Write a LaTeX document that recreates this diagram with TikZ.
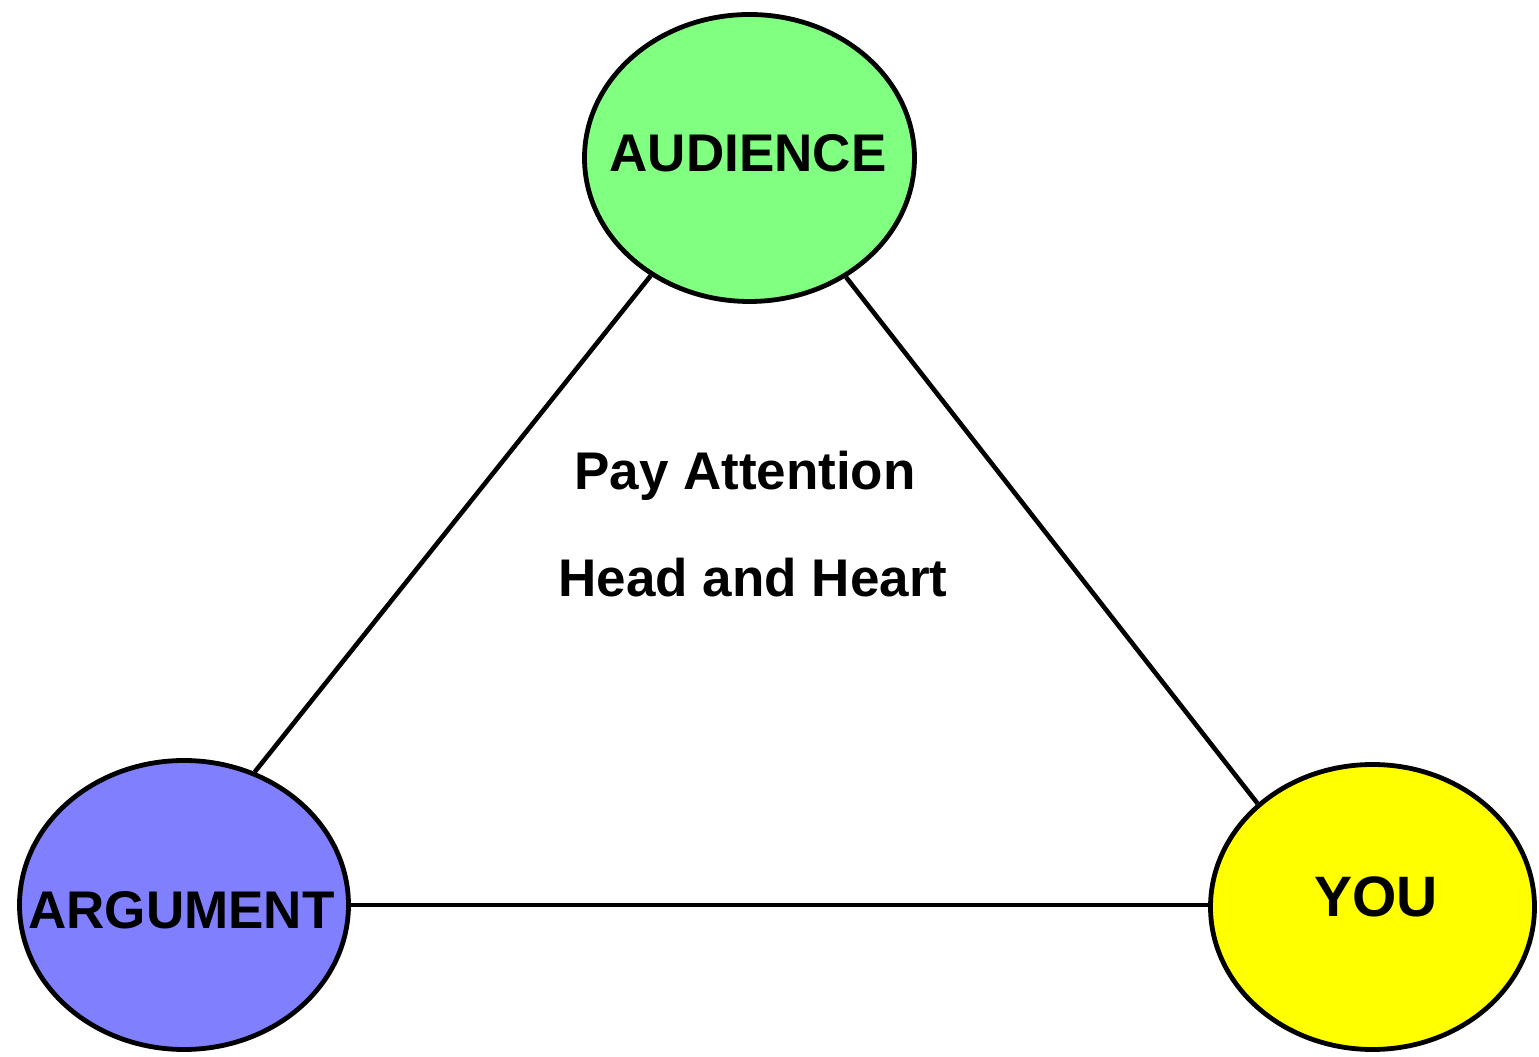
\documentclass[tikz,border=0pt]{standalone}
\usepackage{fontspec}
\setmainfont{Liberation Sans}
\usetikzlibrary{shapes.geometric}
\definecolor{audgreen}{HTML}{80FF80}
\definecolor{argblue}{HTML}{8080FF}
\definecolor{youyellow}{HTML}{FFFF00}
\tikzset{
  circ/.style={ellipse, draw=black, line width=4.8pt, inner sep=0pt},
  link/.style={draw=black, line width=4.6pt},
  caption/.style={font=\fontsize{53}{60}\selectfont\bfseries, inner sep=0pt}
}
\begin{document}
\begin{tikzpicture}[x=1pt, y=1pt]
  \useasboundingbox (0,0) rectangle (1539,1057);

  % the three corners of the triangle
  \node[circ, fill=audgreen, minimum width=330pt, minimum height=287pt] (aud) at (749.5,899) {};
  \node[circ, fill=argblue, minimum width=329pt, minimum height=289pt] (arg) at (184,152) {};
  \node[circ, fill=youyellow, minimum width=324pt, minimum height=285pt] (you) at (1372.5,150) {};

  % sides of the triangle
  \draw[link] (aud.230) -- (arg.62);
  \draw[link] (aud.309) -- (you.138);
  \draw[link] (arg.east) -- (arg.east -| you.west);

  % corner labels
  \node[caption] (audtxt) at (748,904) {AUDIENCE};
  \node[caption] (argtxt) at (181.5,147) {ARGUMENT};
  \node[caption, font=\fontsize{57}{64}\selectfont\bfseries] (youtxt) at (1376,160.5) {YOU};

  % centre text
  \node[caption, anchor=base] (pay) at (745,567) {Pay Attention};
  \node[caption, anchor=base] (head) at (753,460) {Head and Heart};
\end{tikzpicture}
\end{document}
